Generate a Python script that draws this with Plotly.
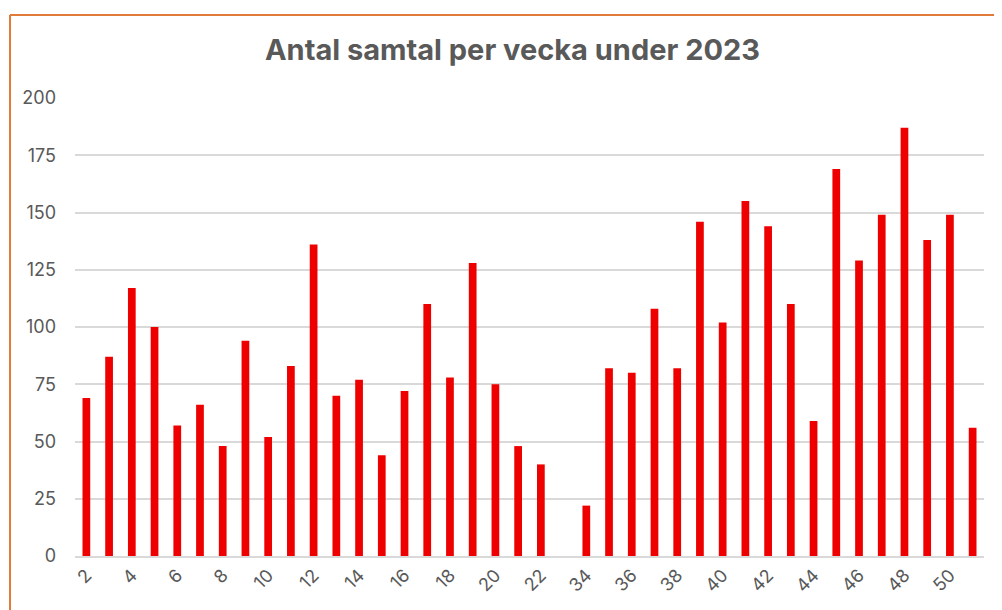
import plotly.graph_objects as go

# veckor (vecka 33 saknar värde)
weeks = [str(w) for w in range(2, 23)] + ["33"] + [str(w) for w in range(34, 52)]
calls = [69, 87, 117, 100, 57, 66, 48, 94, 52, 83, 136, 70, 77, 44, 72, 110, 78, 128, 75, 48, 40,
         None,
         22, 82, 80, 108, 82, 146, 102, 155, 144, 110, 59, 169, 129, 149, 187, 138, 149, 56]
tick_labels = weeks[0::2]
y_ticks = [0, 25, 50, 75, 100, 125, 150, 175, 200]

fig = go.Figure()
fig.add_trace(go.Bar(x=weeks, y=calls, marker=dict(color="#EE0000", line=dict(width=0))))

grey = "#595959"
# sidan har 8 px marginal, så figuren görs 8 px mindre åt båda håll
fig.update_layout(
    width=994, height=602,
    margin=dict(l=67, r=18, t=90, b=54),
    plot_bgcolor="white", paper_bgcolor="white",
    bargap=0.66,
    showlegend=False,
    font=dict(family="Inter, Arial, sans-serif", color=grey, size=18),
    title=dict(text="<b>Antal samtal per vecka under 2023</b>", x=0.5075, xanchor="center",
               y=0.93, yanchor="middle", font=dict(size=29, color=grey)),
    xaxis=dict(type="category", tickmode="array", tickvals=tick_labels, ticktext=tick_labels,
               tickangle=-45, showgrid=False, ticks="", zeroline=False, automargin=False,
               showline=True, linecolor="#D9D9D9", linewidth=1.5,
               tickfont=dict(size=18, color=grey)),
    yaxis=dict(range=[0, 200], tickvals=y_ticks, showgrid=True, gridcolor="#D9D9D9",
               gridwidth=1.5, zeroline=False, ticks="", ticklabelstandoff=18, automargin=False,
               tickfont=dict(size=18, color=grey)),
)

# orange ram (kant av skärmklippet)
fig.add_shape(type="line", xref="paper", yref="paper", x0=-0.0715, x1=-0.0715, y0=-0.2, y1=1.181,
              line=dict(color="#E07B39", width=2))
fig.add_shape(type="line", xref="paper", yref="paper", x0=-0.0715, x1=1.05, y0=1.181, y1=1.181,
              line=dict(color="#E07B39", width=2))

fig.write_html("out.html")
